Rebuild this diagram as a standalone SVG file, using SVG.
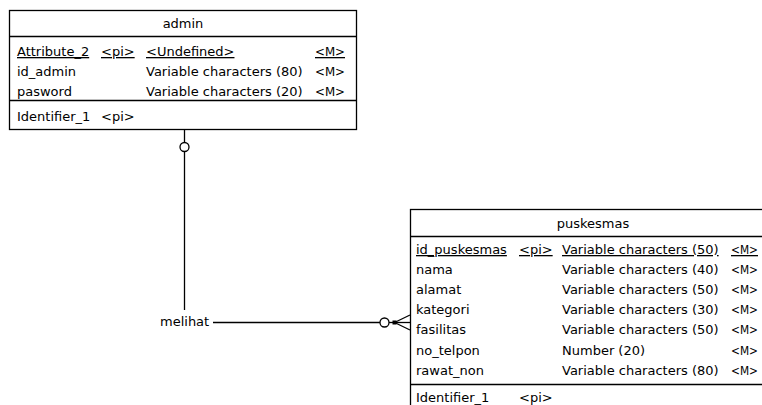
<svg xmlns="http://www.w3.org/2000/svg" width="762" height="405" viewBox="0 0 762 405">
<style>
.box{fill:#fff;stroke:#000;stroke-width:1.3}
.sep{stroke:#000;stroke-width:1.3}
text{font-family:"DejaVu Sans",Verdana,sans-serif;font-size:13px;fill:#000}
.u{text-decoration:underline}
.ln{stroke:#000;stroke-width:1.3;fill:none}
.c{fill:#fff;stroke:#000;stroke-width:1.3}
</style>
<g id="admin">
<rect class="box" x="9.5" y="10.5" width="347" height="119"/>
<line class="sep" x1="9.5" y1="36.5" x2="356.5" y2="36.5"/>
<line class="sep" x1="9.5" y1="100.5" x2="356.5" y2="100.5"/>
<text x="183" y="28" text-anchor="middle">admin</text>
<text class="u" x="17" y="56">Attribute_2</text>
<text class="u" x="101" y="56">&lt;pi&gt;</text>
<text class="u" x="146" y="56">&lt;Undefined&gt;</text>
<text class="u" x="315" y="56" textLength="30" lengthAdjust="spacingAndGlyphs">&lt;M&gt;</text>
<text x="17" y="76">id_admin</text>
<text x="146" y="76">Variable characters (80)</text>
<text x="315" y="76" textLength="30" lengthAdjust="spacingAndGlyphs">&lt;M&gt;</text>
<text x="17" y="96">pasword</text>
<text x="146" y="96">Variable characters (20)</text>
<text x="315" y="96" textLength="30" lengthAdjust="spacingAndGlyphs">&lt;M&gt;</text>
<text x="17" y="121">Identifier_1</text>
<text x="101" y="121">&lt;pi&gt;</text>
</g>
<g id="puskesmas">
<rect class="box" x="410.5" y="209.5" width="360" height="210"/>
<line class="sep" x1="410.5" y1="236.5" x2="770" y2="236.5"/>
<line class="sep" x1="410.5" y1="384.5" x2="770" y2="384.5"/>
<text x="593" y="228" text-anchor="middle">puskesmas</text>
<text class="u" x="416" y="254">id_puskesmas</text>
<text class="u" x="519" y="254">&lt;pi&gt;</text>
<text class="u" x="562" y="254">Variable characters (50)</text>
<text class="u" x="731" y="254" textLength="27" lengthAdjust="spacingAndGlyphs">&lt;M&gt;</text>
<text x="416" y="274">nama</text>
<text x="562" y="274">Variable characters (40)</text>
<text x="731" y="274" textLength="27" lengthAdjust="spacingAndGlyphs">&lt;M&gt;</text>
<text x="416" y="294">alamat</text>
<text x="562" y="294">Variable characters (50)</text>
<text x="731" y="294" textLength="27" lengthAdjust="spacingAndGlyphs">&lt;M&gt;</text>
<text x="416" y="314">kategori</text>
<text x="562" y="314">Variable characters (30)</text>
<text x="731" y="314" textLength="27" lengthAdjust="spacingAndGlyphs">&lt;M&gt;</text>
<text x="416" y="334">fasilitas</text>
<text x="562" y="334">Variable characters (50)</text>
<text x="731" y="334" textLength="27" lengthAdjust="spacingAndGlyphs">&lt;M&gt;</text>
<text x="416" y="355">no_telpon</text>
<text x="562" y="355">Number (20)</text>
<text x="731" y="355" textLength="27" lengthAdjust="spacingAndGlyphs">&lt;M&gt;</text>
<text x="416" y="375">rawat_non</text>
<text x="562" y="375">Variable characters (80)</text>
<text x="731" y="375" textLength="27" lengthAdjust="spacingAndGlyphs">&lt;M&gt;</text>
<text x="416" y="402">Identifier_1</text>
<text x="519" y="402">&lt;pi&gt;</text>
</g>
<g id="connectors">
<line class="ln" x1="184.5" y1="130" x2="184.5" y2="310"/>
<circle class="c" cx="184.5" cy="147" r="4.5"/>
<text x="160" y="326">melihat</text>
<line class="ln" x1="213" y1="322.5" x2="380" y2="322.5"/>
<circle class="c" cx="384.5" cy="322.5" r="4.5"/>
<line class="ln" x1="389" y1="322.5" x2="410" y2="322.5"/>
<rect x="392.5" y="320.5" width="4" height="4" fill="#000"/>
<line class="ln" x1="394.5" y1="322.5" x2="410" y2="315"/>
<line class="ln" x1="394.5" y1="322.5" x2="410" y2="330"/>
</g>
</svg>
